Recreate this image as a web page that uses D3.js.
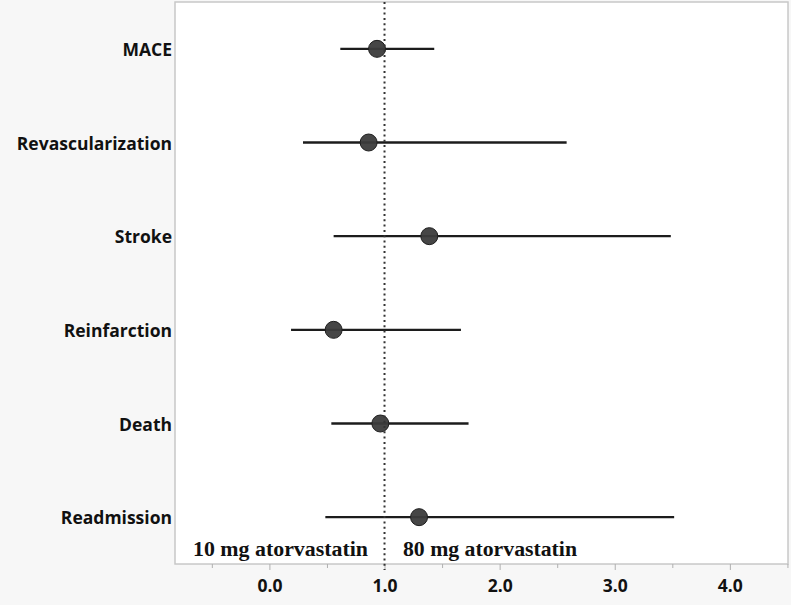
<!DOCTYPE html>
<html>
<head>
<meta charset="utf-8">
<script src="https://cdn.jsdelivr.net/npm/d3@7"></script>
<style>
  html, body { margin: 0; padding: 0; background: #f7f7f7; }
  svg { display: block; }
</style>
</head>
<body>
<div id="chart"></div>
<script>
// ---- data ----
const categories = ["MACE", "Revascularization", "Stroke", "Reinfarction", "Death", "Readmission"];
const estimates  = [0.935, 0.862, 1.389, 0.558, 0.964, 1.300];
const lowerCI    = [0.616, 0.292, 0.558, 0.188, 0.538, 0.486];
const upperCI    = [1.432, 2.582, 3.487, 1.664, 1.730, 3.516];
const majorTicks = [0, 1, 2, 3, 4];
const minorTicks = [-0.5, 0.5, 1.5, 2.5, 3.5, 4.5];
const referenceValue = 1;
const leftNote  = "10 mg atorvastatin";
const rightNote = "80 mg atorvastatin";

const W = 791, H = 605;
const plot = { left: 175, right: 788, top: 2, bottom: 564 };

const svg = d3.select("#chart").append("svg")
  .attr("width", W).attr("height", H);

svg.append("rect").attr("width", W).attr("height", H).attr("fill", "#f7f7f7");

const x = d3.scaleLinear().domain([-0.82, 4.505]).range([plot.left, plot.right]);
const y = d3.scalePoint().domain(categories).range([plot.top, plot.bottom]).padding(0.5);

// plot background + frame
svg.append("rect")
  .attr("x", plot.left).attr("y", plot.top)
  .attr("width", plot.right - plot.left).attr("height", plot.bottom - plot.top)
  .attr("fill", "#ffffff").attr("stroke", "#c8c8c8").attr("stroke-width", 1.5);

// x axis: minor ticks
const minorAxis = d3.axisBottom(x).tickValues(minorTicks).tickSize(4).tickFormat("");
const gMinor = svg.append("g").attr("transform", `translate(0,${plot.bottom})`).call(minorAxis);
gMinor.select(".domain").remove();
gMinor.selectAll("line").attr("stroke", "#b0b0b0").attr("stroke-width", 1);

// x axis: major ticks + labels
const majorAxis = d3.axisBottom(x).tickValues(majorTicks).tickSize(6).tickPadding(10)
  .tickFormat(d3.format(".1f"));
const gMajor = svg.append("g").attr("transform", `translate(0,${plot.bottom})`).call(majorAxis);
gMajor.select(".domain").remove();
gMajor.selectAll("line").attr("stroke", "#b0b0b0").attr("stroke-width", 1);
gMajor.selectAll("text")
  .attr("font-family", "'Open Sans', sans-serif")
  .attr("font-weight", "bold")
  .attr("font-size", "17.5px")
  .attr("fill", "#111");

// category labels
svg.append("g").selectAll("text").data(categories).join("text")
  .attr("x", plot.left - 3)
  .attr("y", d => y(d))
  .attr("dy", "0.4em")
  .attr("text-anchor", "end")
  .attr("font-family", "'Open Sans', sans-serif")
  .attr("font-weight", "bold")
  .attr("font-size", "17.5px")
  .attr("fill", "#111")
  .text(d => d);

const rows = categories.map((c, i) => ({ cat: c, est: estimates[i], lo: lowerCI[i], hi: upperCI[i] }));

// CI lines
svg.append("g").selectAll("line").data(rows).join("line")
  .attr("x1", d => x(d.lo)).attr("x2", d => x(d.hi))
  .attr("y1", d => y(d.cat)).attr("y2", d => y(d.cat))
  .attr("stroke", "#1c1c1c").attr("stroke-width", 2.4);

// points
svg.append("g").selectAll("circle").data(rows).join("circle")
  .attr("cx", d => x(d.est)).attr("cy", d => y(d.cat))
  .attr("r", 8.5)
  .attr("fill", "#3c3c3c").attr("fill-opacity", 0.95)
  .attr("stroke", "#1e1e1e").attr("stroke-width", 1);

// reference dotted line
svg.append("line")
  .attr("x1", x(referenceValue)).attr("x2", x(referenceValue))
  .attr("y1", plot.top).attr("y2", plot.bottom + 6)
  .attr("stroke", "#333").attr("stroke-width", 2)
  .attr("stroke-dasharray", "2,3.3");

// annotations
const noteY = 556;
svg.append("text")
  .attr("x", x(referenceValue) - 16.5).attr("y", noteY)
  .attr("text-anchor", "end")
  .attr("font-family", "'Liberation Serif', 'Times New Roman', serif")
  .attr("font-weight", "bold").attr("font-size", "20px")
  .attr("fill", "#111")
  .attr("textLength", 175).attr("lengthAdjust", "spacingAndGlyphs")
  .text(leftNote);
svg.append("text")
  .attr("x", x(referenceValue) + 18.5).attr("y", noteY)
  .attr("text-anchor", "start")
  .attr("font-family", "'Liberation Serif', 'Times New Roman', serif")
  .attr("font-weight", "bold").attr("font-size", "20px")
  .attr("fill", "#111")
  .attr("textLength", 174).attr("lengthAdjust", "spacingAndGlyphs")
  .text(rightNote);
</script>
</body>
</html>
